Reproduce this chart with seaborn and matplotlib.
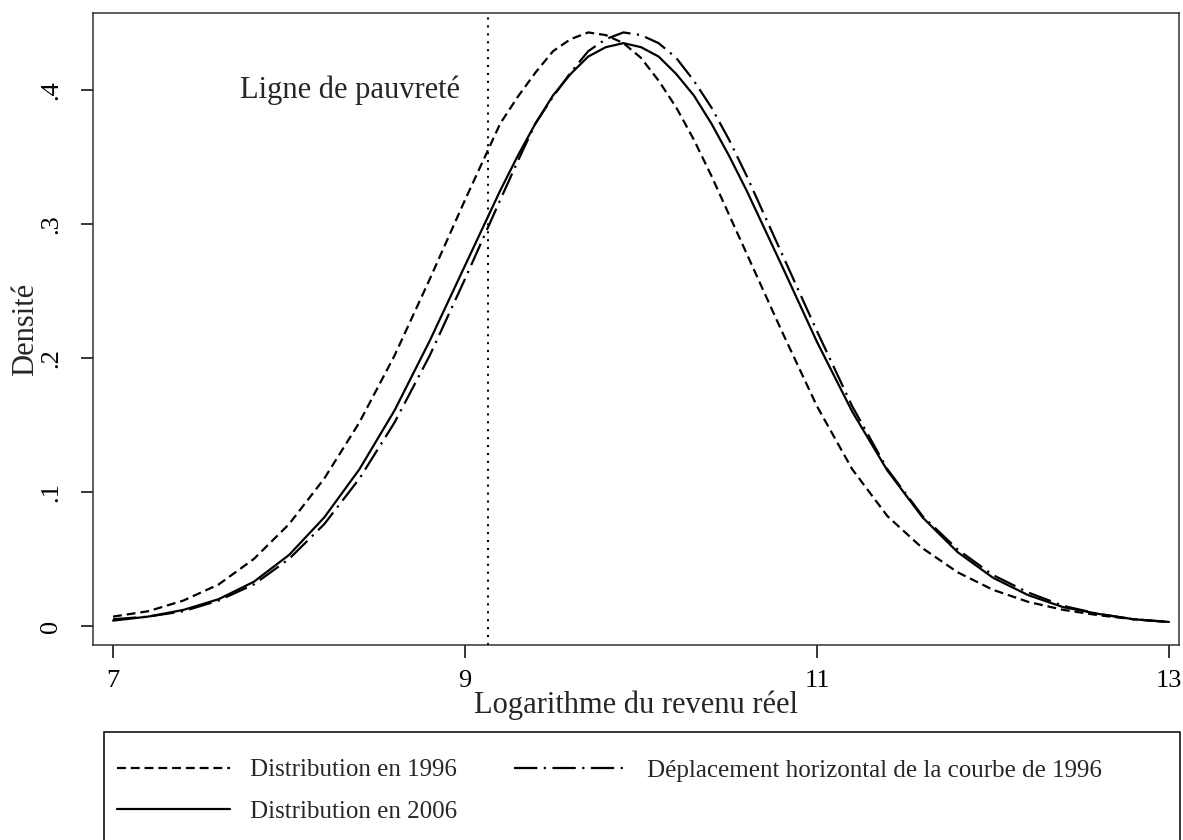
import matplotlib
matplotlib.use('Agg')
import matplotlib.pyplot as plt
from matplotlib.patches import Rectangle
import seaborn as sns
import numpy as np
import pandas as pd

revenu = [7.0, 7.2, 7.4, 7.6, 7.8, 8.0, 8.2, 8.4, 8.6, 8.8, 9.0, 9.2,
          9.3, 9.4, 9.5, 9.6, 9.7, 9.8, 9.9, 10.0, 10.1, 10.2, 10.3, 10.4, 10.5, 10.6,
          10.8, 11.0, 11.2, 11.4, 11.6, 11.8, 12.0, 12.2, 12.4, 12.6, 12.8, 13.0]

# density, 1996
dens_1996 = [0.007, 0.011, 0.019, 0.031, 0.050, 0.076, 0.110, 0.152, 0.202, 0.259, 0.318, 0.375,
             0.395, 0.413, 0.429, 0.438, 0.443, 0.441, 0.435, 0.424, 0.407, 0.387, 0.363, 0.336, 0.307, 0.278,
             0.220, 0.164, 0.117, 0.082, 0.058, 0.040, 0.027, 0.018, 0.012, 0.008, 0.005, 0.003]

# density, 2006
dens_2006 = [0.004, 0.007, 0.012, 0.020, 0.033, 0.053, 0.081, 0.117, 0.161, 0.213, 0.269, 0.325,
             0.351, 0.375, 0.396, 0.412, 0.425, 0.432, 0.435, 0.432, 0.425, 0.412, 0.396, 0.375, 0.351, 0.325,
             0.269, 0.212, 0.160, 0.116, 0.081, 0.055, 0.036, 0.023, 0.014, 0.009, 0.005, 0.003]

# 1996 curve shifted horizontally
dens_shift = [0.005, 0.007, 0.011, 0.019, 0.031, 0.050, 0.076, 0.110, 0.152, 0.202, 0.259, 0.318,
              0.347, 0.375, 0.395, 0.413, 0.429, 0.438, 0.443, 0.441, 0.435, 0.424, 0.407, 0.387, 0.363, 0.336,
              0.278, 0.220, 0.164, 0.117, 0.082, 0.057, 0.038, 0.025, 0.015, 0.009, 0.005, 0.003]

ligne_pauvrete = 9.13

labels = ['Distribution en 1996', 'Distribution en 2006',
          'Déplacement horizontal de la courbe de 1996']

df = pd.DataFrame({'revenu': revenu, 'd1996': dens_1996,
                   'd2006': dens_2006, 'dshift': dens_shift})

sns.set_style('ticks')
plt.rcParams['font.family'] = ['Liberation Serif', 'DejaVu Serif']

fig = plt.figure(figsize=(11.83, 8.4), dpi=100)
ax = fig.add_axes([93 / 1183, 1 - 645 / 840, (1179 - 93) / 1183, (645 - 13) / 840])

sns.lineplot(data=df, x='revenu', y='d1996', ax=ax, color='black', lw=1.6,
             linestyle=(0, (4, 2.2)), label=labels[0])
sns.lineplot(data=df, x='revenu', y='d2006', ax=ax, color='black', lw=1.6,
             linestyle='-', label=labels[1])
sns.lineplot(data=df, x='revenu', y='dshift', ax=ax, color='black', lw=1.6,
             linestyle=(0, (10.5, 2.9, 1, 2.9)), label=labels[2])
if ax.get_legend() is not None:
    ax.get_legend().remove()

# poverty line
ax.axvline(ligne_pauvrete, color='black', lw=1.5, linestyle=(0, (1, 2.8)))
ax.text(8.97, 0.4, 'Ligne de pauvreté', ha='right', va='center', fontsize=22)

ax.set_xlim(6.886, 13.057)
ax.set_ylim(-0.0142, 0.4575)
ax.set_xticks([7, 9, 11, 13])
ax.set_xticklabels(['7', '9', '11', '13'])
ax.set_yticks([0, 0.1, 0.2, 0.3, 0.4])
ax.set_yticklabels(['0', '.1', '.2', '.3', '.4'], rotation=90, va='center')
ax.tick_params(axis='both', direction='out', length=9, width=1.1, color='black',
               labelsize=19, labelcolor='black', bottom=True, left=True)
ax.tick_params(axis='x', pad=9)
ax.tick_params(axis='y', pad=13)
for s in ax.spines.values():
    s.set_visible(True)
    s.set_color('#333333')
    s.set_linewidth(1.1)

ax.set_xlabel('Logarithme du revenu réel', fontsize=22, labelpad=-1)
ax.set_ylabel('Densité', fontsize=22, labelpad=0)

# legend box below the plot
fig.patches.append(Rectangle((104 / 1183, -0.05), (1180 - 104) / 1183, 0.05 + 1 - 732 / 840,
                             transform=fig.transFigure, fill=False, edgecolor='black', lw=1.1))

lines = ax.get_lines()
leg = fig.legend(lines[:3], labels, loc='upper left',
                 bbox_to_anchor=(117 / 1183, 1 - 759 / 840),
                 ncol=2, fontsize=18, frameon=False, handlelength=4.5, handletextpad=0.8,
                 columnspacing=2.3, labelspacing=0.76, borderpad=0, borderaxespad=0)

fig.savefig('out.png', dpi=100)
